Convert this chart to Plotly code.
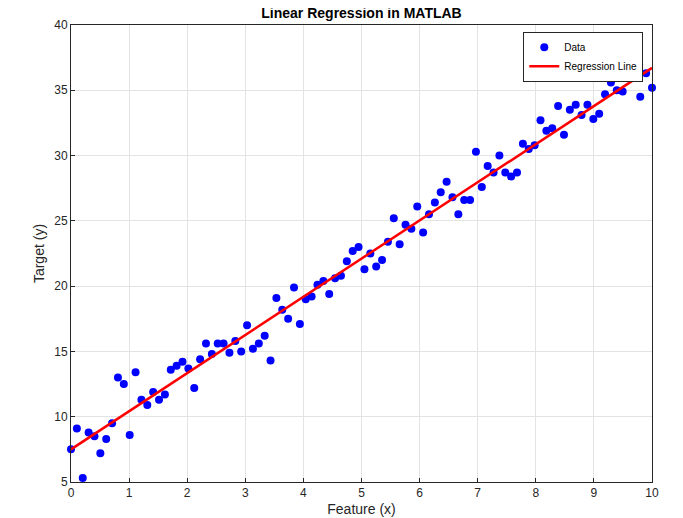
import numpy as np
import plotly.graph_objects as go

x = np.linspace(0, 10, 100)
y = [7.5, 9.1, 5.3, 8.8, 8.5, 7.2, 8.3, 9.5, 13.0, 12.5,
     8.6, 13.4, 11.3, 10.9, 11.9, 11.3, 11.7, 13.6, 13.9, 14.2,
     13.7, 12.2, 14.4, 15.6, 14.8, 15.6, 15.6, 14.9, 15.8, 15.0,
     17.0, 15.2, 15.6, 16.2, 14.3, 19.1, 18.2, 17.5, 19.9, 17.1,
     19.0, 19.2, 20.1, 20.4, 19.4, 20.6, 20.8, 21.9, 22.7, 23.0,
     21.3, 22.5, 21.5, 22.0, 23.4, 25.2, 23.2, 24.7, 24.4, 26.1,
     24.1, 25.5, 26.4, 27.2, 28.0, 26.8, 25.5, 26.6, 26.6, 30.3,
     27.6, 29.2, 28.7, 30.0, 28.7, 28.4, 28.7, 30.9, 30.5, 30.8,
     32.7, 31.9, 32.1, 33.8, 31.6, 33.5, 33.9, 33.1, 33.9, 32.8,
     33.2, 34.7, 35.6, 35.0, 34.9, 36.0, 36.0, 34.5, 36.3, 35.2]

slope, icpt = np.polyfit(x, y, 1)
yfit = slope * x + icpt

fig = go.Figure()
fig.add_trace(go.Scatter(x=x, y=y, mode="markers", name="Data",
                         marker=dict(color="#0000ff", size=8), cliponaxis=False))
fig.add_trace(go.Scatter(x=x, y=yfit, mode="lines", name="Regression Line",
                         line=dict(color="#ff0000", width=2.5)))

ax = dict(showline=True, linecolor="#262626", mirror=True, ticks="inside",
          ticklen=4, tickcolor="#262626", showgrid=True, gridcolor="#e3e3e3",
          zeroline=False, automargin=False, tickfont=dict(size=12, color="#262626"),
          title_font=dict(size=14, color="#262626"))
fig.update_xaxes(ax, range=[0, 10], dtick=1, title_text="Feature (x)", title_standoff=4)
fig.update_yaxes(ax, range=[5, 40], dtick=5, title_text="Target (y)", title_standoff=6)
fig.update_layout(
    width=683, height=518, plot_bgcolor="white", paper_bgcolor="white",
    font=dict(family="Liberation Sans, Arial, sans-serif"),
    margin=dict(l=63, r=39, t=17, b=44, autoexpand=False),
    title=dict(text="<b>Linear Regression in MATLAB</b>", x=0.5, xanchor="center",
               xref="paper", y=1, yanchor="top", pad=dict(t=0),
               font=dict(size=14, color="black")),
    legend=dict(x=0.985, y=0.985, xanchor="right", yanchor="top",
                bordercolor="#262626", borderwidth=1, bgcolor="white",
                font=dict(size=10, color="black"), tracegroupgap=0,
                itemwidth=30),
    showlegend=True,
)
fig.write_html("out.html")
